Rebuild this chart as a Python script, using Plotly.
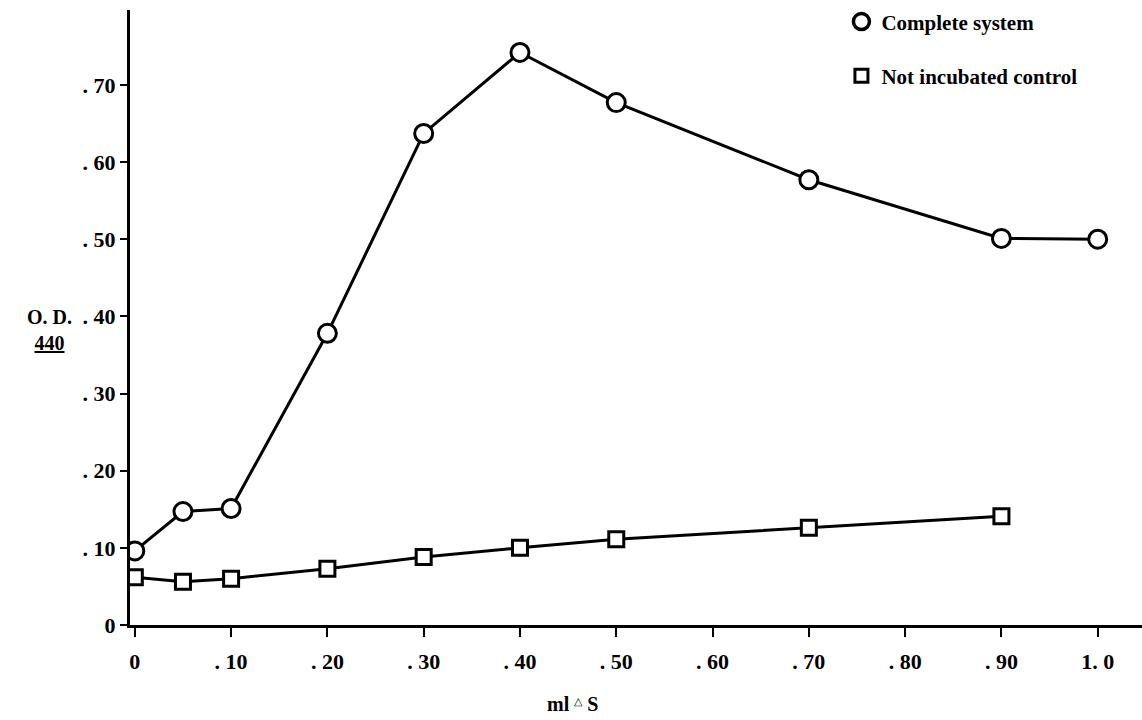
import plotly.graph_objects as go

x_complete = [0.0, 0.05, 0.10, 0.20, 0.30, 0.40, 0.50, 0.70, 0.90, 1.00]
y_complete = [0.096, 0.147, 0.151, 0.378, 0.637, 0.742, 0.677, 0.577, 0.501, 0.500]

x_control = [0.0, 0.05, 0.10, 0.20, 0.30, 0.40, 0.50, 0.70, 0.90]
y_control = [0.062, 0.056, 0.060, 0.073, 0.088, 0.100, 0.111, 0.126, 0.141]

x_tickvals = [0, 0.1, 0.2, 0.3, 0.4, 0.5, 0.6, 0.7, 0.8, 0.9, 1.0]
x_ticktext = ["0", ". 10", ". 20", ". 30", ". 40", ". 50", ". 60", ". 70", ". 80", ". 90", "1. 0"]
y_tickvals = [0, 0.1, 0.2, 0.3, 0.4, 0.5, 0.6, 0.7]
y_ticktext = ["0", ". 10", ". 20", ". 30", ". 40", ". 50", ". 60", ". 70"]

FONT = "Liberation Serif"

fig = go.Figure()
fig.add_trace(go.Scatter(
    x=x_complete, y=y_complete, mode="lines+markers", showlegend=False,
    line=dict(color="black", width=3),
    marker=dict(symbol="circle", size=18, color="white", line=dict(color="black", width=3)),
))
fig.add_trace(go.Scatter(
    x=x_control, y=y_control, mode="lines+markers", showlegend=False,
    line=dict(color="black", width=3),
    marker=dict(symbol="square", size=15, color="white", line=dict(color="black", width=3)),
))
# legend entries
fig.add_trace(go.Scatter(
    x=[None], y=[None], mode="markers", name="<b>Complete system</b>", legendgroup="a",
    marker=dict(symbol="circle", size=16, color="white", line=dict(color="black", width=3.5)),
))
fig.add_trace(go.Scatter(
    x=[None], y=[None], mode="markers", name="<b>Not incubated control</b>", legendgroup="b",
    marker=dict(symbol="square", size=13, color="white", line=dict(color="black", width=3)),
))

fig.update_layout(
    width=1142, height=720,
    margin=dict(l=130, r=0, t=10, b=95),
    paper_bgcolor="white", plot_bgcolor="white",
    font=dict(family=FONT, size=19, color="black"),
    legend=dict(x=0.703, y=1.014, xanchor="left", yanchor="top",
                font=dict(family=FONT, size=21, color="black"),
                tracegroupgap=24, itemwidth=30, bgcolor="rgba(0,0,0,0)"),
    xaxis=dict(range=[-0.005, 1.046], tickvals=x_tickvals,
               ticktext=["<b>%s</b>" % t for t in x_ticktext],
               showgrid=False, zeroline=False, showline=True, linecolor="black", linewidth=3,
               ticks="outside", ticklen=9, tickwidth=2, tickcolor="black",
               ticklabelstandoff=6,
               tickfont=dict(family=FONT, size=22, color="black")),
    yaxis=dict(range=[0, 0.797], tickvals=y_tickvals,
               ticktext=["<b>%s</b>" % t for t in y_ticktext],
               showgrid=False, zeroline=False, showline=True, linecolor="black", linewidth=3,
               ticks="outside", ticklen=7, tickwidth=2, tickcolor="black",
               tickfont=dict(family=FONT, size=22, color="black")),
    annotations=[
        dict(text="<b>O. D.</b><br><b><u>440</u></b>", xref="paper", yref="paper",
             x=-0.08, y=0.48, xanchor="center", yanchor="middle", showarrow=False,
             font=dict(family=FONT, size=20, color="black"), align="center"),
        dict(text="<b>ml</b> <span style='font-size:15px'><sup>△</sup></span> <b>S</b>",
             xref="paper", yref="paper", x=0.437, y=-0.128, xanchor="center", yanchor="middle",
             showarrow=False, font=dict(family=FONT, size=20, color="black")),
    ],
)

fig.write_html("out.html")
